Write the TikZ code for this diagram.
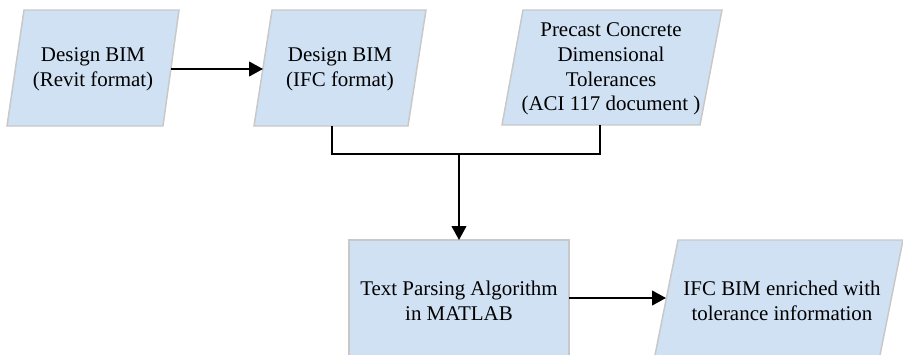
\documentclass[tikz,border=0pt]{standalone}
\usepackage{fontspec}
\setmainfont{Liberation Serif}
\usetikzlibrary{arrows.meta}
\definecolor{boxfill}{RGB}{207,225,243}
\definecolor{boxedge}{RGB}{200,200,200}
\tikzset{
  shapebox/.style={fill=boxfill,draw=boxedge,line width=1.1pt,line join=miter},
  lbl/.style={align=center,font=\fontsize{15.7}{18.6}\selectfont,inner sep=0pt},
  conn/.style={line width=1.6pt,line join=miter},
  arr/.style={conn,-{Triangle[length=10.5pt,width=11pt]}}
}
\begin{document}
\begin{tikzpicture}[x=0.75pt,y=-0.75pt]
\useasboundingbox (0,0) rectangle (903,354);
\clip (0,0) rectangle (903,354);
% shapes
\filldraw[shapebox] (24,10) -- (179,10) -- (163,126) -- (7,126) -- cycle;
\filldraw[shapebox] (272,10) -- (426,10) -- (408,126) -- (254,126) -- cycle;
\filldraw[shapebox] (523,10) -- (722,10) -- (700,125) -- (502,125) -- cycle;
\filldraw[shapebox] (349,240) rectangle (569,370);
\filldraw[shapebox] (678,240) -- (903,240) -- (877,370) -- (652,370) -- cycle;
% labels
\node[lbl] (a) at (93,69) {Design BIM\\(Revit format)};
\node[lbl] (b) at (340,69) {Design BIM\\(IFC format)};
\node[lbl] (c) at (611,69) {Precast Concrete\\Dimensional\\Tolerances\\(ACI 117 document )};
\node[lbl] (d) at (459,301) {Text Parsing Algorithm\\in MATLAB};
\node[lbl] (e) at (782,301) {IFC BIM enriched with\\tolerance information};
% connector coordinates
\coordinate (aR) at (171,69);
\coordinate (bL) at (263,69);
\coordinate (bB) at (332,126);
\coordinate (cB) at (600,125);
\coordinate (j1) at (332,154);
\coordinate (j2) at (600,154);
\coordinate (jm) at (459,154);
\coordinate (dT) at (459,240);
\coordinate (dR) at (569,298);
\coordinate (eL) at (666,298);
\draw[arr] (aR) -- (bL);
\draw[conn] (bB) -- (j1) -- (j2) -- (cB);
\draw[arr] (jm) -- (dT);
\draw[arr] (dR) -- (eL);
\end{tikzpicture}
\end{document}
